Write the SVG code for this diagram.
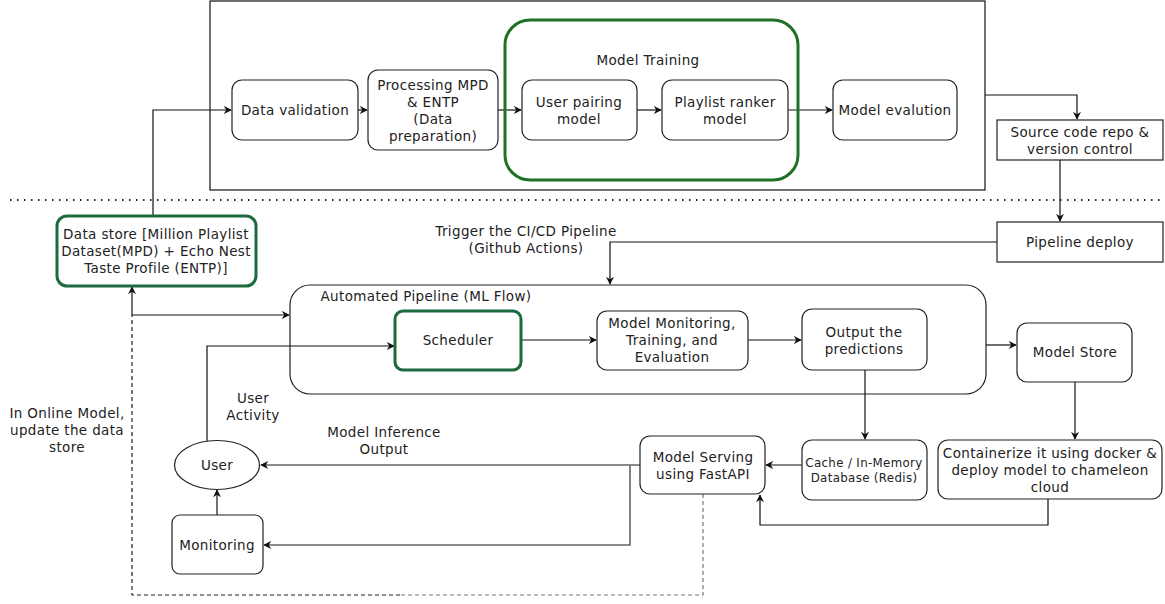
<svg xmlns="http://www.w3.org/2000/svg" width="1165" height="604" viewBox="0 0 1165 604">
<style>
text{font-family:"DejaVu Sans","Noto Sans",sans-serif;font-size:13.5px;letter-spacing:0.35px;fill:#222;text-anchor:middle;dominant-baseline:central}
.box{fill:#fff;stroke:#222;stroke-width:1.2}
.frame{fill:none;stroke:#222;stroke-width:1.2}
.g1{fill:none;stroke:#1f7224;stroke-width:3}
.g2{fill:#fff;stroke:#1b6b3e;stroke-width:3}
.ln{fill:none;stroke:#111;stroke-width:1.2}
.gr{fill:none;stroke:#666;stroke-width:1.6}
.dash{fill:none;stroke:#222;stroke-width:1.2;stroke-dasharray:4,3}
.dashg{fill:none;stroke:#777;stroke-width:1.2;stroke-dasharray:4,3}
.sm{font-size:11.8px}
</style>
<defs>
<marker id="ar" viewBox="0 0 10 10" refX="9" refY="5" markerWidth="8" markerHeight="8" markerUnits="userSpaceOnUse" orient="auto"><path d="M0,0 L10,5 L0,10 L3,5 z" fill="#111"/></marker>
</defs>
<rect width="1165" height="604" fill="#fff"/>

<g id="training-frame"><rect x="210" y="1" width="775" height="189" fill="none" stroke="#111" stroke-width="1.2"/></g>
<g id="separator"><line x1="10" y1="200" x2="1160" y2="200" stroke="#222" stroke-width="2" stroke-dasharray="1.5,5.5"/></g>
<g id="automated-pipeline"><rect class="frame" x="290" y="285" width="696" height="109" rx="20"/><text x="426" y="296">Automated Pipeline (ML Flow)</text></g>

<g id="connectors">
<path class="ln" d="M153,216 V110 H231" marker-end="url(#ar)"/>
<path class="ln" d="M358,110 H367" marker-end="url(#ar)"/>
<path class="ln" d="M498,110 H521" marker-end="url(#ar)"/>
<path class="ln" d="M637,110 H661" marker-end="url(#ar)"/>
<path class="ln" d="M788,110 H832" marker-end="url(#ar)"/>
<path class="ln" d="M985,95 H1077 V119" marker-end="url(#ar)"/>
<path class="ln" d="M1060,160 V221" marker-end="url(#ar)"/>
<path class="ln" d="M997,242 H610 V284" marker-end="url(#ar)"/>
<path class="ln" d="M132,315 V287" marker-end="url(#ar)"/>
<path class="ln" d="M132,315 H289" marker-end="url(#ar)"/>
<path class="ln" d="M207,441 V346 H394" marker-end="url(#ar)"/>
<path class="ln" d="M521,340 H596" marker-end="url(#ar)"/>
<path class="ln" d="M748,340 H801" marker-end="url(#ar)"/>
<path class="ln" d="M865,370 V439" marker-end="url(#ar)"/>
<path class="ln" d="M986,345 H1016" marker-end="url(#ar)"/>
<path class="ln" d="M1075,382 V439" marker-end="url(#ar)"/>
<path class="ln" d="M1048,499 V525 H760 V495" marker-end="url(#ar)"/>
<path class="ln" d="M802,465 H766" marker-end="url(#ar)"/>
<path class="gr" d="M640,465 H261" marker-end="url(#ar)"/>
<path class="gr" d="M630,465 V545 H264" marker-end="url(#ar)"/>
<path class="ln" d="M217,515 V490" marker-end="url(#ar)"/>
<path class="dashg" d="M703,494 V595 H400"/>
<path class="dash" d="M400,595 H132 V315"/>
</g>

<g id="model-training"><rect class="g1" x="505" y="20" width="293" height="160" rx="25"/><text x="648" y="60">Model Training</text></g>
<g id="data-validation"><rect class="box" x="232" y="80" width="126" height="60" rx="10"/><text x="295" y="110">Data validation</text></g>
<g id="processing"><rect class="box" x="368" y="70" width="130" height="80" rx="10"/><text x="433" y="85">Processing MPD</text><text x="433" y="102">&amp; ENTP</text><text x="433" y="119">(Data</text><text x="433" y="136">preparation)</text></g>
<g id="user-pairing"><rect class="box" x="522" y="80" width="115" height="60" rx="10"/><text x="579" y="102">User pairing</text><text x="579" y="119">model</text></g>
<g id="playlist-ranker"><rect class="box" x="662" y="80" width="126" height="60" rx="10"/><text x="725" y="102">Playlist ranker</text><text x="725" y="119">model</text></g>
<g id="model-eval"><rect class="box" x="833" y="80" width="124" height="60" rx="10"/><text x="895" y="110">Model evalution</text></g>
<g id="source-repo"><rect class="box" x="997" y="120" width="166" height="40"/><text x="1080" y="132">Source code repo &amp;</text><text x="1080" y="149">version control</text></g>
<g id="pipeline-deploy"><rect class="box" x="997" y="222" width="166" height="40"/><text x="1080" y="242">Pipeline deploy</text></g>
<g id="trigger-label"><text x="526" y="231">Trigger the CI/CD Pipeline</text><text x="526" y="248">(Github Actions)</text></g>
<g id="data-store"><rect class="g2" x="57" y="216" width="199" height="70" rx="10"/><text x="156" y="234">Data store [Million Playlist</text><text x="156" y="251">Dataset(MPD) + Echo Nest</text><text x="156" y="268">Taste Profile (ENTP)]</text></g>

<g id="scheduler"><rect class="g2" x="395" y="311" width="126" height="59" rx="8"/><text x="458" y="340">Scheduler</text></g>
<g id="model-monitoring"><rect class="box" x="597" y="311" width="151" height="59" rx="10"/><text x="672" y="323">Model Monitoring,</text><text x="672" y="340">Training, and</text><text x="672" y="357">Evaluation</text></g>
<g id="output-predictions"><rect class="box" x="802" y="309" width="125" height="61" rx="10"/><text x="864" y="332">Output the</text><text x="864" y="349">predictions</text></g>
<g id="model-store"><rect class="box" x="1017" y="323" width="115" height="59" rx="10"/><text x="1075" y="352">Model Store</text></g>
<g id="cache"><rect class="box" x="802" y="440" width="125" height="60" rx="10"/><text class="sm" x="864" y="463">Cache / In-Memory</text><text class="sm" x="864" y="478">Database (Redis)</text></g>
<g id="containerize"><rect class="box" x="938" y="440" width="224" height="59" rx="10"/><text x="1050" y="453">Containerize it using docker &amp;</text><text x="1050" y="470">deploy model to chameleon</text><text x="1050" y="487">cloud</text></g>
<g id="model-serving"><rect class="box" x="640" y="436" width="125" height="58" rx="10"/><text x="703" y="457">Model Serving</text><text x="703" y="474">using FastAPI</text></g>
<g id="user"><ellipse class="box" cx="217" cy="465" rx="42.5" ry="24.5"/><text x="217" y="465">User</text></g>
<g id="monitoring"><rect class="box" x="172" y="515" width="91" height="59" rx="8"/><text x="217" y="545">Monitoring</text></g>
<g id="labels">
<text x="253" y="398">User</text><text x="253" y="415">Activity</text>
<text x="384" y="432">Model Inference</text><text x="384" y="449">Output</text>
<text x="67" y="413">In Online Model,</text><text x="67" y="430">update the data</text><text x="67" y="447">store</text>
</g>
</svg>
